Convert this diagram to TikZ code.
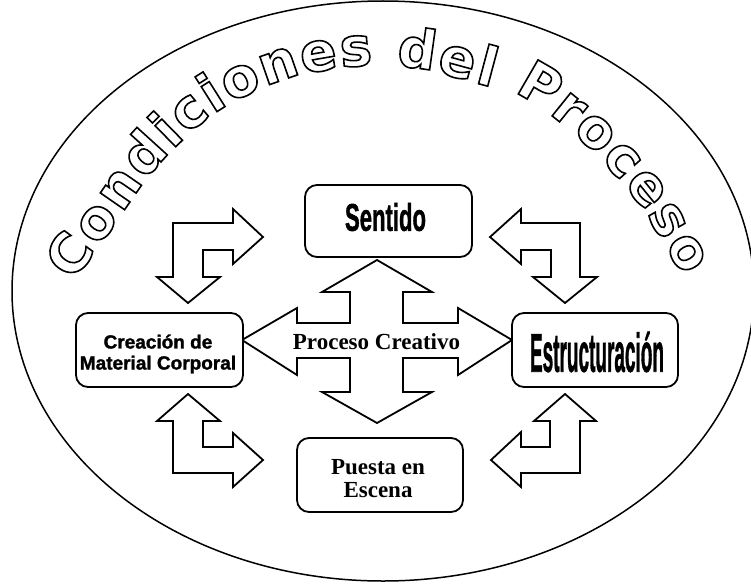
\documentclass[tikz,border=0pt]{standalone}
\usepackage{fontspec}
\usepackage{graphicx}
\usetikzlibrary{decorations.text}
\setmainfont{Liberation Serif}
\newfontfamily\arialfam{Liberation Sans}
\newfontfamily\heavyfam{Liberation Sans}[BoldFeatures={FakeBold=1.5}]
\newfontfamily\timesfam{Liberation Serif}
\newfontfamily\titlefam{DejaVu Sans}
\newcommand\titlestyle{\titlefam\bfseries\fontsize{54}{60}\selectfont}
\begin{document}
\begin{tikzpicture}[x=1pt,y=-1pt,
  box/.style={draw, line width=1.8pt, rounded corners=12pt, fill=white, inner sep=0pt},
  blockarrow/.style={draw, line width=1.8pt, fill=white, line join=miter},
  titledeco/.style={decorate, decoration={text along path, text align=fit to path, raise=-15pt,
      text={|\titlestyle\color{#1}|Condiciones del Proceso}}}
]
\useasboundingbox (0,0) rectangle (751,583);
% outer ellipse
\draw[line width=1.5pt] (383,291) ellipse [x radius=371pt, y radius=290pt];
% L-shaped double arrows
\draw[blockarrow] (173,223) -- (233,223) -- (233,209) -- (263,237) -- (233,264) -- (233,250) -- (203,250) -- (203,277) -- (220,277) -- (188,303) -- (157,277) -- (173,277) -- cycle;
\draw[blockarrow] (580,223) -- (521,223) -- (521,209) -- (490,237) -- (521,264) -- (521,250) -- (551,250) -- (551,277) -- (533,277) -- (565,303) -- (597,277) -- (580,277) -- cycle;
\draw[blockarrow] (188,394) -- (220,421) -- (203,421) -- (203,447) -- (233,447) -- (233,433) -- (263,460) -- (233,487) -- (233,473) -- (173,473) -- (173,421) -- (157,421) -- cycle;
\draw[blockarrow] (565,394) -- (596,421) -- (580,421) -- (580,473) -- (521,473) -- (521,487) -- (491,460) -- (521,432) -- (521,447) -- (550,447) -- (550,421) -- (534,421) -- cycle;
% central four-way arrow
\draw[blockarrow] (377,260) -- (432,292) -- (403,292) -- (403,323) -- (458,323) -- (458,308) -- (512,340) -- (458,375) -- (458,358) -- (403,358) -- (403,392) -- (432,392) -- (377,423) -- (322,392) -- (350,392) -- (350,358) -- (297,358) -- (297,375) -- (242,340) -- (297,308) -- (297,323) -- (350,323) -- (350,292) -- (322,292) -- cycle;
\node[font=\timesfam\bfseries\fontsize{23}{27}\selectfont] (proceso) at (376.5,341.5) {Proceso Creativo};
% boxes
\node[box, minimum width=167pt, minimum height=72pt] (sentido) at (388.5,221) {};
\node (sentidoT) at (385.5,217) {\resizebox{81pt}{28pt}{\heavyfam\bfseries Sentido}};
\node[box, minimum width=167pt, minimum height=74pt] (creacion) at (159.5,350) {};
\node[align=center, inner sep=0pt, font=\heavyfam\bfseries\fontsize{19}{21}\selectfont] (creacionT) at (158,354) {Creación de\\Material Corporal};
\node[box, minimum width=166pt, minimum height=74pt] (estruct) at (595,350) {};
\node (estructT) at (597,352) {\resizebox{134pt}{40pt}{\heavyfam\bfseries Estructuración}};
\node[box, minimum width=166pt, minimum height=74pt] (puesta) at (380,475) {};
\node[align=center, inner sep=0pt, font=\timesfam\bfseries\fontsize{23}{23}\selectfont] (puestaT) at (378,479) {Puesta en\\Escena};
% curved hollow title: text render mode "stroke" (drawn last)
\begin{scope}
\special{pdf:literal direct 1 Tr 1.6 w}
\path[titledeco=black]
  plot[smooth] coordinates {(61,273) (98,222) (140,163) (190,113) (233,85) (290,62) (357,51) (417,53) (478,68) (538,88) (600,137) (650,193) (672,228) (696,269)};
\end{scope}
\end{tikzpicture}
\end{document}
